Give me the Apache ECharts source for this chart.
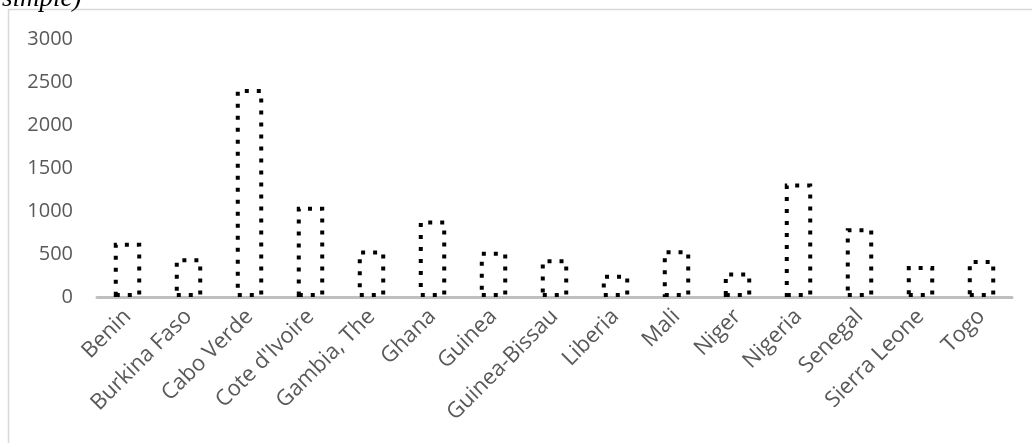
<!DOCTYPE html>
<html>
<head>
<meta charset="utf-8">
<script src="https://cdn.jsdelivr.net/npm/echarts@6/dist/echarts.min.js"></script>
<style>
html,body{margin:0;padding:0;background:#fff;}
#chart{width:1032px;height:443px;}
</style>
</head>
<body>
<div id="chart"></div>
<script>
const categories = ["Benin","Burkina Faso","Cabo Verde","Cote d'Ivoire","Gambia, The","Ghana","Guinea","Guinea-Bissau","Liberia","Mali","Niger","Nigeria","Senegal","Sierra Leone","Togo"];
const values = [630, 450, 2420, 1050, 540, 890, 525, 440, 260, 545, 285, 1320, 800, 360, 430];
const yTicks = [0, 500, 1000, 1500, 2000, 2500, 3000];
const titleFragment = "simple)";

const chart = echarts.init(document.getElementById('chart'), null, {renderer:'canvas'});
const labelFont = "'Open Sans', 'Noto Sans', sans-serif";
chart.setOption({
  animation: false,
  backgroundColor: '#fff',
  graphic: [
    {type:'rect', shape:{x:8.5, y:9.5, width:1100, height:600}, style:{fill:'none', stroke:'#d9d9d9', lineWidth:1.5}, silent:true},
    {type:'text', x:2, y:12, style:{text:titleFragment, font:"italic 27px 'Liberation Serif', serif", fill:'#000', verticalAlign:'bottom', align:'left'}, silent:true}
  ],
  grid: {left:97, right:20, top:39, bottom:146, containLabel:false},
  xAxis: {
    type:'category',
    data: categories,
    axisLine:{show:true, lineStyle:{color:'#bfbfbf', width:3}},
    axisTick:{show:false},
    axisLabel:{rotate:45, margin:16, color:'#595959', fontSize:22, fontFamily:labelFont, interval:0}
  },
  yAxis: {
    type:'value',
    min: yTicks[0], max: yTicks[yTicks.length-1], interval: 500,
    axisLine:{show:false},
    axisTick:{show:false},
    splitLine:{show:false},
    axisLabel:{color:'#595959', fontSize:20, fontFamily:labelFont, margin:24, formatter: v => String(v)}
  },
  series: [{
    type:'bar',
    data: values,
    barWidth:'45%',
    itemStyle:{color:'#ffffff', borderColor:'#000000', borderWidth:4, borderType:[4,8]}
  }]
});
</script>
</body>
</html>
